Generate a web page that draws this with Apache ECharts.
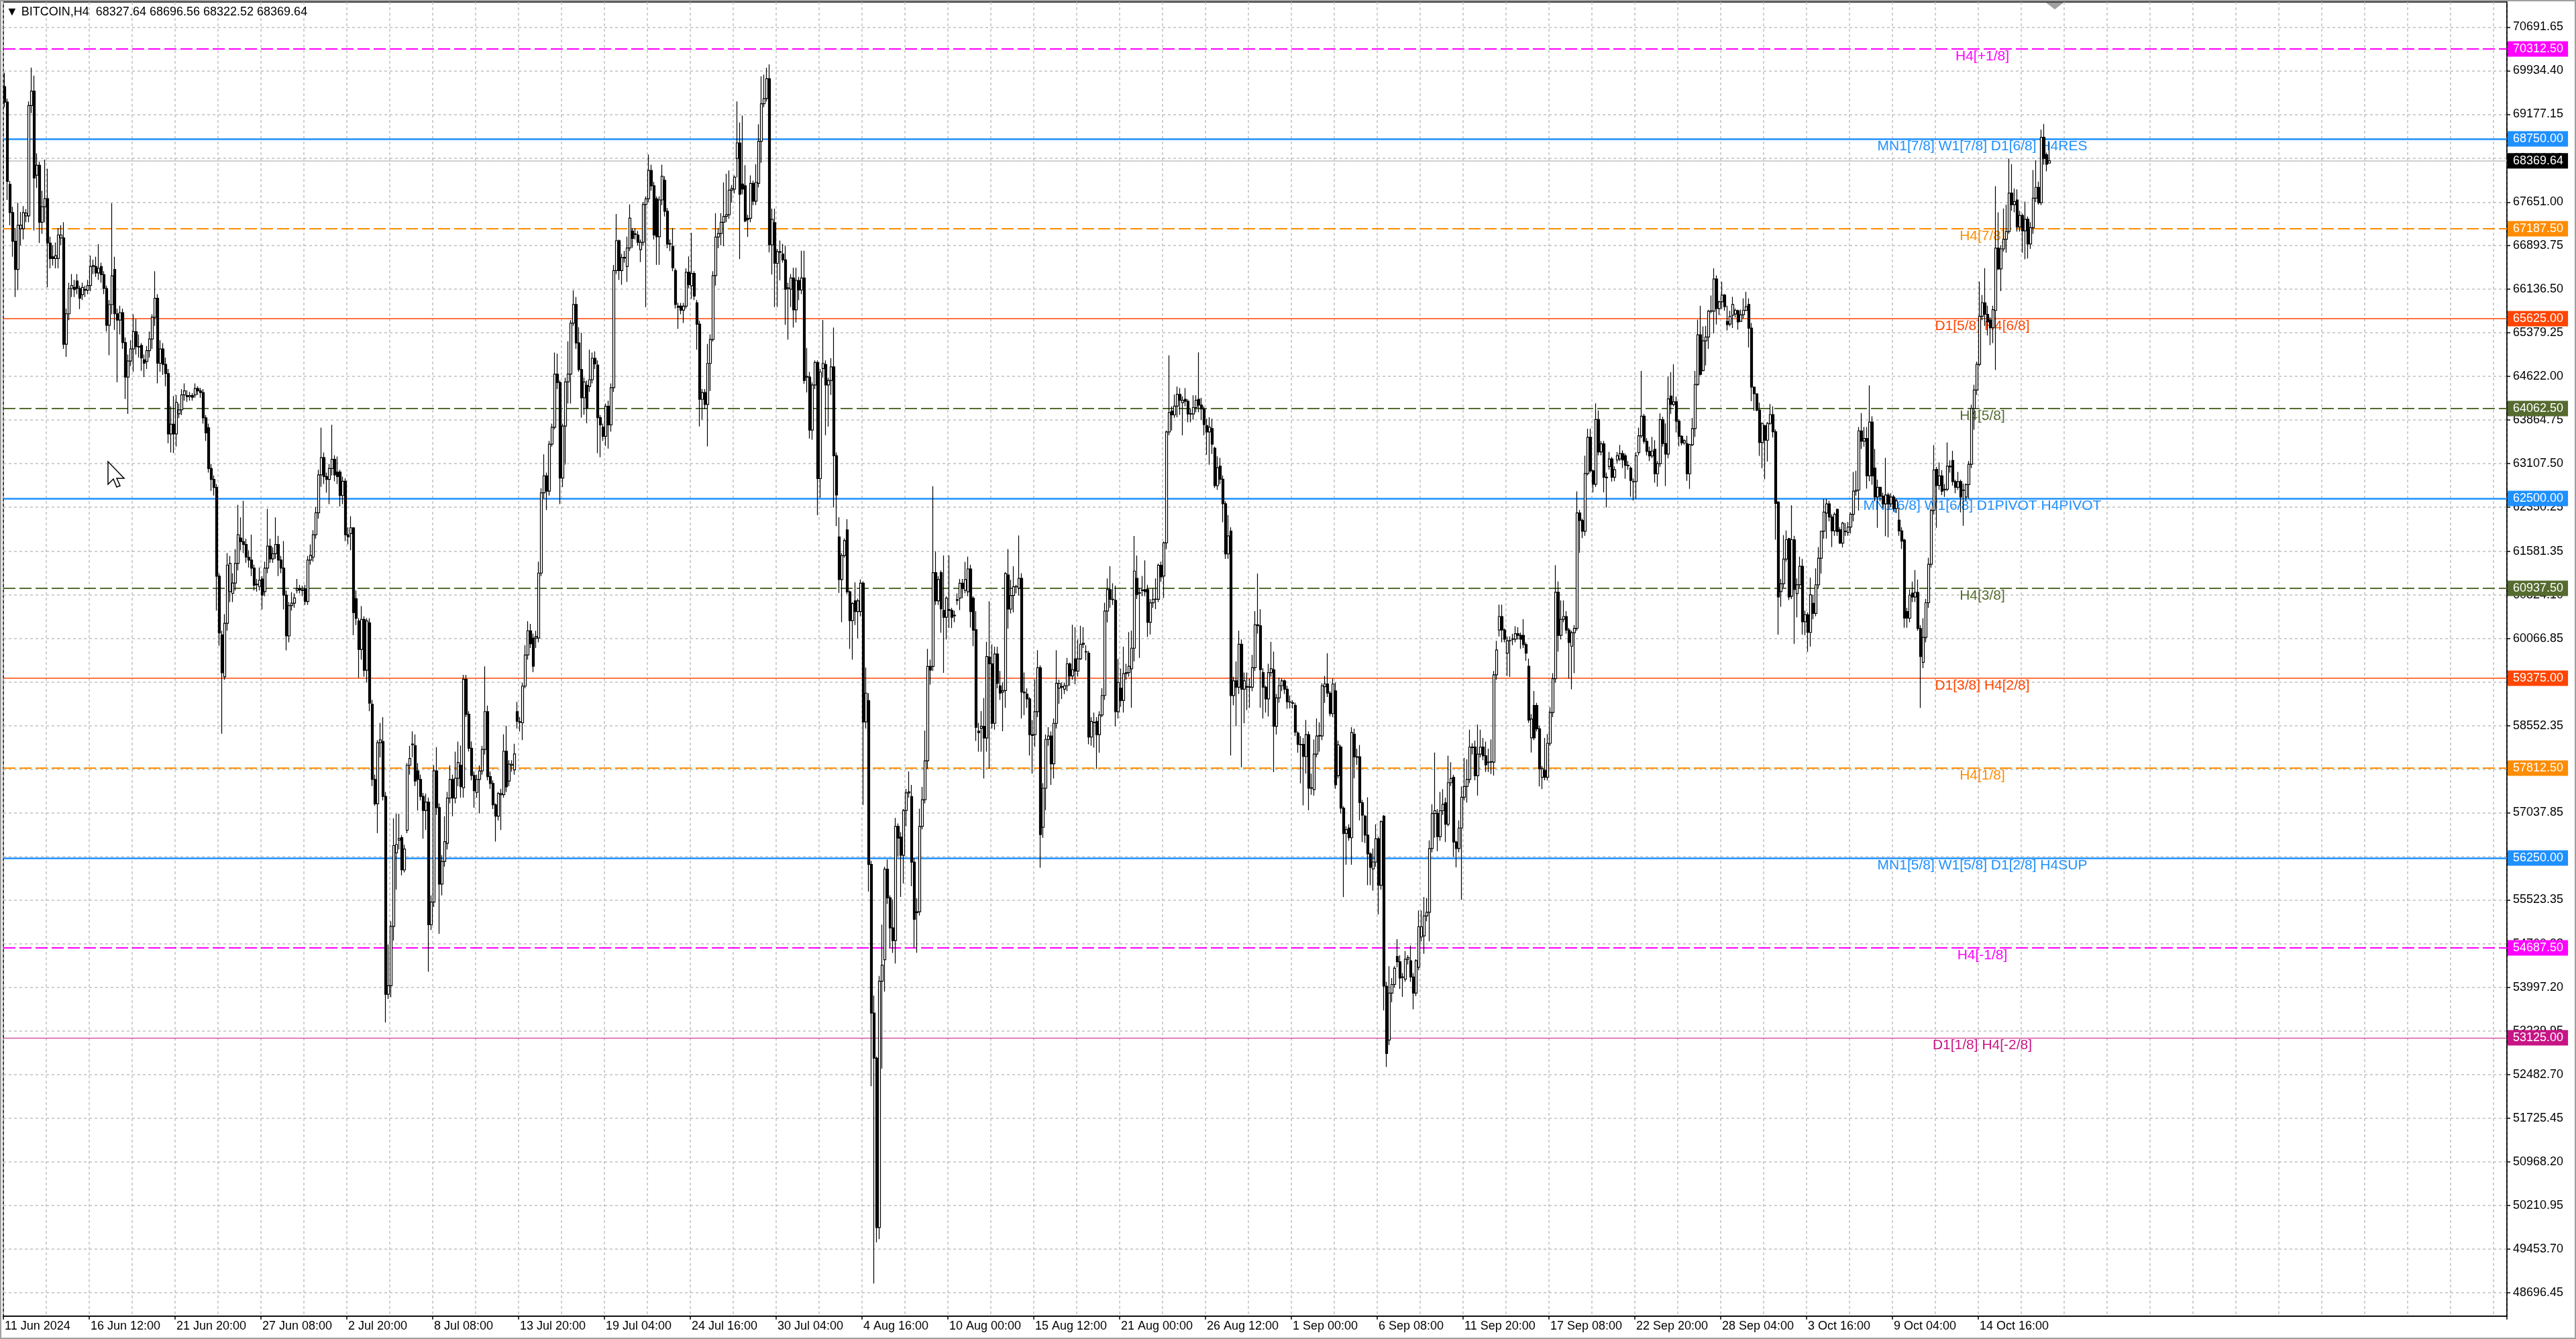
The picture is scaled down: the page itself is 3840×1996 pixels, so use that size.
<!DOCTYPE html>
<html>
<head>
<meta charset="utf-8">
<title>BITCOIN,H4</title>
<script src="https://cdn.jsdelivr.net/npm/echarts@6/dist/echarts.min.js"></script>
<style>
  html, body { margin: 0; padding: 0; background: #ffffff; }
  #main { width: 3840px; height: 1996px; }
</style>
</head>
<body>
<div id="main"></div>
<script>
// time scale labels, one every 32 H4 bars
const timeLabels = ['11 Jun 2024', '16 Jun 12:00', '21 Jun 20:00', '27 Jun 08:00', '2 Jul 20:00', '8 Jul 08:00',
  '13 Jul 20:00', '19 Jul 04:00', '24 Jul 16:00', '30 Jul 04:00', '4 Aug 16:00', '10 Aug 00:00',
  '15 Aug 12:00', '21 Aug 00:00', '26 Aug 12:00', '1 Sep 00:00', '6 Sep 08:00', '11 Sep 20:00',
  '17 Sep 08:00', '22 Sep 20:00', '28 Sep 04:00', '3 Oct 16:00', '9 Oct 04:00', '14 Oct 16:00'];

// price scale labels
const priceTicks = [70691.65, 69934.40, 69177.15, 68414.08, 67651.00, 66893.75, 66136.50, 65379.25, 64622.00,
  63864.75, 63107.50, 62350.25, 61581.35, 60824.10, 60066.85, 59309.60, 58552.35, 57795.10, 57037.85,
  56280.60, 55523.35, 54760.28, 53997.20, 53239.95, 52482.70, 51725.45, 50968.20, 50210.95, 49453.70, 48696.45];

// Murrey levels
const levelPrices = [70312.50, 68750.00, 67187.50, 65625.00, 64062.50, 62500.00, 60937.50, 59375.00,
  57812.50, 56250.00, 54687.50, 53125.00];
const levelNames = ['H4[+1/8]', 'MN1[7/8] W1[7/8] D1[6/8] H4RES', 'H4[7/8]', 'D1[5/8] H4[6/8]', 'H4[5/8]',
  'MN1[6/8] W1[6/8] D1PIVOT H4PIVOT', 'H4[3/8]', 'D1[3/8] H4[2/8]', 'H4[1/8]',
  'MN1[5/8] W1[5/8] D1[2/8] H4SUP', 'H4[-1/8]', 'D1[1/8] H4[-2/8]'];

const lastPrice = 68369.64;
const headerText = '\u25BC BITCOIN,H4  68327.64 68696.56 68322.52 68369.64';

// H4 bars: [open, close, low, high]
const candles = [
[69660,69390,69300,69900],[69390,68010,67690,69450],[67960,67470,67250,68020],[67470,66970,66700,67570],
[66970,66480,66000,67200],[66480,67250,66120,67640],[67190,67250,66900,67480],[67190,67470,67000,67580],
[67410,67460,67300,67530],[67410,69330,67300,69400],[69330,69580,69200,69990],[69580,68070,67160,69850],
[68120,68290,67900,68500],[68290,67300,66940,68350],[67300,67570,67100,67850],[67570,67710,67300,68390],
[67710,66940,66170,68230],[66940,66670,66500,67050],[66700,66670,66550,66900],[66670,66720,66500,66950],
[66670,67080,66500,67200],[67030,67080,66900,67250],[67030,65180,65100,67300],[65180,65710,64960,65800],
[65710,66150,65600,66250],[66150,66200,66000,66400],[66170,66130,66000,66300],[66280,66150,66050,66400],
[66150,65980,65790,66200],[66040,66170,65950,66250],[66130,66120,66000,66200],[66120,66200,66050,66300],
[66200,66530,66100,66720],[66530,66550,66400,66650],[66530,66420,66350,66700],[66420,66500,66300,66920],
[66530,66390,66250,66600],[66390,66150,66050,66450],[66150,65510,65400,66200],[65510,65870,64990,65950],
[65870,66370,65700,67630],[66480,65710,65430,66700],[65710,65600,64520,65800],[65600,65730,65350,65850],
[65730,65210,65100,65800],[65210,64610,64230,65300],[64610,64890,63970,65000],[64890,65100,64800,65250],
[65100,65400,64700,65700],[65400,65140,65000,65620],[65140,65130,64950,65350],[65160,64940,64720,65200],
[64910,64850,64610,65000],[64880,65070,64750,65150],[65070,65270,64950,65400],[65270,65650,65100,65700],
[65650,65980,65500,66450],[65980,64850,64500,66050],[64850,65100,64700,65250],[65100,64830,64650,65200],
[64830,64670,64450,64950],[64670,63620,63460,64750],[63620,63790,63300,64100],[63790,63620,63290,64280],
[63620,64170,63400,64300],[63970,64040,63900,64150],[64040,64300,63950,64400],[64300,64370,64200,64500],
[64290,64270,64180,64380],[64270,64290,64200,64350],[64290,64260,64200,64330],[64300,64410,64250,64500],
[64410,64370,64300,64450],[64370,64340,64250,64420],[64340,63900,63800,64400],[63900,63640,63500,63950],
[63730,63020,62950,63800],[63020,62830,62630,63100],[62830,62690,62550,62900],[62690,61150,60550,62750],
[61150,60160,59940,61200],[60130,59470,58410,60200],[59400,60330,59350,60490],[60330,61340,60200,61550],
[60880,61370,60700,61500],[60850,61030,60700,61200],[61030,61370,60900,61620],[61370,61870,61250,62390],
[61810,61750,61600,62170],[61750,61700,61550,62460],[61700,61480,61380,61800],[61480,61430,61300,61600],
[61430,61290,61150,61870],[61290,60990,60900,61350],[61000,61010,60880,61100],[60970,61080,60900,61300],
[61100,60820,60570,61150],[60880,61290,60800,61400],[61290,61670,61200,62320],[61670,61450,61380,61800],
[61450,61540,61380,61650],[61540,61700,61450,62170],[61700,61430,61150,61850],[61430,61290,61200,61500],
[61290,60820,60570,61760],[60820,60110,59860,60900],[60110,60640,60000,60700],[60640,60680,60550,60870],
[60680,60770,60600,60850],[60900,60930,60850,61100],[60930,60910,60850,61000],[60910,60900,60800,60980],
[60930,60710,60650,61000],[60710,61430,60650,61500],[61430,61510,61350,61700],[61480,61870,61400,61950],
[61870,62250,61800,62350],[62250,62910,62150,63000],[62910,63210,62700,63730],[63210,62880,62750,63300],
[62880,62830,62600,62950],[62830,63020,62400,63100],[63020,63180,62900,63780],[63180,62910,62800,63250],
[62960,62880,62750,63230],[62960,62550,62360,63000],[62550,62800,62400,62880],[62800,61870,61760,62850],
[61870,61830,61700,62000],
[61890,61990,61600,62190],[61990,60515,60120,62000],[60760,60417,60300,60900],[60370,59876,59385,60420],
[59876,60397,59700,60630],[60397,59513,59400,60450],[59513,60370,59300,60420],[60340,58943,58800,60420],
[58923,57616,57500,59000],[57616,57193,57160,57700],[57193,58255,56683,58300],[58255,58304,58000,58600],
[58275,57321,57250,58700],[57321,53881,53390,57400],[53881,54030,53800,54750],[54030,55062,53830,55150],
[55062,56466,54815,56940],[56340,56486,55700,57020],[56560,56590,56400,57020],[56604,56043,55950,56650],
[56043,56407,56000,56480],[56732,57862,56683,57900],[57862,57980,57700,58200],[58220,58230,58000,58450],
[58206,57587,57500,58400],[57764,57616,57076,57900],[57616,57321,57250,57700],[57321,57076,56584,57380],
[57076,57223,56740,57370],[57223,55090,54275,57300],[55090,55484,55000,55600],[55484,57764,55400,57862],
[57764,57125,57000,58176],[57125,55798,54933,57200],[55798,56191,55600,56300],[56191,56535,56100,56977],
[56505,57292,56400,57400],[57292,57616,57200,57862],[57616,57292,56977,57700],[57292,57636,57200,58097],
[57636,57911,57500,58274],[57862,57489,57300,58206],[57469,59356,57300,59434],[59356,58746,58700,59434],
[58746,58157,58100,58800],[58157,57685,57600,58275],[57685,57420,57125,57750],[57390,57616,57300,57700],
[57616,57764,57027,57862],[57764,58137,57700,58200],[58137,58795,58050,59582],[58795,57665,57600,58900],
[57665,57547,57450,57750],[57547,57174,57100,57600],[57174,56977,56535,57200],[56977,57370,56900,57400],
[57350,57370,56738,57450],[57350,58107,57300,58402],[58107,57488,57400,58550],[57587,57882,57500,57950],
[57862,57880,57750,57950],[57783,58058,57700,58235],[58795,58628,58500,58963],[58620,58610,58450,58700],
[58600,59238,58300,59300],[59238,59778,59200,59950],[59778,60200,59700,60365],[60200,59975,59900,60320],
[60073,59582,59480,60150],[60073,60103,59900,60200],[60073,61203,60000,61400],[61203,62598,61150,62677],
[62598,62893,62500,63267],[62893,62628,62300,62950],[62628,63443,62550,63500],[63443,63738,63400,63800],
[63738,64662,63700,65036],[64662,64515,64400,65016],[64515,62854,62402,64550],[62854,63758,62697,63800],
[63758,64525,63090,64600],[64525,64662,64151,65232],[64662,65547,64151,65600],[65547,65871,65500,66117],
[65871,65203,65100,66000],[65203,64741,64700,65478],[64741,64249,63905,65380],[64249,64525,63955,64600],
[64466,64073,63807,64550],[64446,64564,64350,65085],[64564,64937,64500,65036],[64937,64839,64750,65056],
[64819,63905,63286,64900],[63905,63778,63218,63950],[63738,63581,63500,63800],[63581,64102,63414,64150],
[64102,63778,63365,64200],[63778,64426,63660,64500],[64426,66461,64350,66559],[66461,66981,66400,67443],
[66981,66461,66300,67001],[66461,66687,66215,66750],[66680,66690,66600,66800],[66530,66854,66264,67050],
[66854,67374,66800,67610],[67148,67021,66854,67200],[67100,67090,67000,67200],[67080,66952,66900,67150],
[66824,66952,66608,67000],[66952,67610,66900,67650],[67610,67708,65822,67750],[67708,68200,67650,68475],
[68200,67935,67850,68300],[67935,67080,67000,68000],[67708,67050,66560,67750],[67050,67689,66560,67750],
[67689,68102,67600,68300],[68033,67492,67400,68100],[67492,66922,66850,67550],[66922,66930,66800,67001],
[66883,66510,66450,67198],[66461,65871,65800,66500],[65842,65822,65448,65900],[65842,65773,65700,65900],
[65773,65842,65550,65900],[65842,66431,65800,66500],[66431,66215,66150,66706],[66195,66411,65969,67119],
[66411,66018,65950,66450],[65900,65527,65085,65950],
[65530,64223,63750,65590],[64223,64342,63870,64400],[64342,64134,64050,64400],[64134,64847,63403,65185],
[64847,65263,64370,65350],[65263,66373,65230,66450],[66373,67044,66200,67460],[67044,67104,66850,67200],
[67104,67300,66900,67460],[67300,67401,66884,67995],[67401,67431,67300,68144],[67431,67859,67360,68203],
[67859,67889,67639,67950],[67876,68084,67800,68114],[68410,68680,68080,69400],[68678,67787,66659,69035],
[67965,67876,67787,69154],[67935,67324,67300,68292],[67371,67350,67044,67431],[67371,67977,67300,68114],
[67977,67668,67600,68025],[67668,67995,67600,68310],[67977,68708,67906,69005],[68708,69362,68334,69837],
[69362,69451,69300,69867],[69451,69795,69400,69985],[69795,66908,66777,70045],[66908,67353,66391,67537],
[67294,66587,65827,67537],[66587,66789,65827,66837],[66777,66790,66290,66985],[66748,66647,66600,66926],
[66647,66136,65518,66896],[66150,66160,65262,66250],[66136,66332,65827,66400],[66332,65779,65470,66510],
[65779,66290,65559,66510],[66290,66124,65946,66350],[66124,66332,66050,66807],[66332,64550,64490,66807],
[64610,64620,64342,65114],[64610,63688,63540,64700],[63688,64473,63520,64520],[64473,64864,64400,64900],
[64864,62844,62210,64900],[62844,64698,62512,64750],[64758,64847,64600,65601],[64829,64473,63599,64900],
[64473,64550,63748,64600],[64550,64787,64300,64936],[64787,63242,62342,65470],[63242,62560,62020,63300],
[61832,61091,60859,62173],[61091,61508,60349,61550],[61508,61767,61470,61805],[61953,60877,60840,62138],
[60877,60377,59886,60900],[60377,60674,59700,60700],[60720,60534,60300,61044],[60534,60720,60071,60760],
[60534,61026,60450,61091],[61026,58616,57170,61060],[58616,59116,58500,59561],[58986,56137,55668,59116],
[56137,53555,52284,56200],[53555,52770,48854,53860],[52770,49827,49568,52800],[49827,54110,49623,54200],
[54110,54389,52590,55093],[54481,56057,53926,56100],[56057,55557,55450,56224],[55557,55037,54694,55600],
[55037,54815,54600,55530],[54815,56799,54416,56947],[56799,56595,56270,56850],[56613,56298,55575,56700],
[56298,57077,55807,57100],[57077,57383,56800,57450],[57383,57400,57300,57753],[57318,56178,55760,57522],
[56178,55183,54694,56250],[55316,55300,54602,55550],[55316,56799,55250,57107],[56799,57262,56750,57485],
[57262,57939,57200,58467],[57939,59580,57800,59886],[59580,59515,59265,59700],[59580,61211,59500,62713],
[61211,60720,60650,61582],[60720,61091,60650,61150],[61211,60581,60164,61250],[60554,60434,59468,61508],
[60434,60766,60050,60800],[60554,60570,60248,61508],[60554,60434,60248,60600],[60470,60460,60350,60550],
[60730,60740,60650,60850],[60766,61026,60560,61100],[61026,60933,60766,61100],[60905,61091,60850,61397],
[60877,61276,60800,61490],[61276,60534,60257,61350],[60766,60210,59932,60800],
[60220,58523,58286,60542],[58455,58430,58099,58600],[58506,58540,58099,58803],[58540,58337,57632,59032],
[58337,59753,58099,60008],[59745,59626,57802,60712],[59626,58591,58500,59965],[58591,59796,58480,59923],
[59796,59287,59200,59923],[59244,59117,59000,59500],[59134,59160,58455,59300],[59160,61195,58862,61220],
[61170,60576,60237,61620],[60576,60813,60500,61085],[60813,60966,60517,61322],[60966,60970,60850,61000],
[60941,61111,60813,61857],[61111,59134,58676,61200],[59134,59120,58735,59473],[59100,59015,58862,59200],
[59015,58395,58031,59050],[58395,58380,57717,58650],[58395,58794,58184,59354],[58794,59558,58700,59863],
[59558,56657,56080,59600],[56784,57463,56600,57550],[57463,58311,57081,58400],[58311,58370,58200,58523],
[58370,57886,57522,58450],[57886,58591,57632,58676],[58591,59287,58500,59863],[59202,59287,58930,59350],
[59219,59230,59015,59300],[59185,59244,59100,59300],[59244,59626,59150,59728],[59626,59414,59244,59650],
[59414,59524,59350,60304],[59711,59499,59270,60262],[59499,59711,59400,60050],[59711,59965,59694,60287],
[59965,59982,59900,60262],[59838,59830,59685,59950],[59812,58353,58226,59850],[58353,58625,58201,58700],
[58608,58600,58167,58778],[58625,58395,57802,58700],[58395,58735,58082,58800],[58735,59075,58700,59202],
[59075,60542,59000,60686],[60542,60915,60347,61111],[60915,60746,60600,61322],[60746,60740,60650,61025],
[60729,58794,58540,60983],[58794,59303,58676,59711],[59202,58990,58879,59541],[58990,59456,58778,59923],
[59456,59473,59350,59626],[59473,59583,59400,60177],[59541,59897,58862,60203],[59897,61238,59668,61848],
[61111,60830,60750,61509],[60855,60860,59728,60950],[60898,60910,60800,61153],[60915,60880,60800,61424],
[60915,60347,60092,61000],[60347,60686,60135,60750],[60686,60746,60600,60941],[60746,60750,60576,61111],
[60746,61339,60700,61365],[61339,61136,61050,61400],[61153,61730,60771,61750],[61730,63656,61620,63680],
[63656,63995,63600,64987],[64020,63952,63681,64100],[63952,64105,63900,64309],[64105,64309,63910,64444],
[64309,64207,63952,64419],[64164,64207,63596,64275],[64224,64190,64100,64419],[64190,63969,63825,64224],
[63969,63975,63825,64050],[63969,64080,63867,64292],[64080,64207,64000,64292],[64224,64122,64000,65038],
[64122,64054,63867,64249],[64054,63783,63596,64100],[63766,63656,63257,63885],[63656,63740,63087,63910],
[63715,63443,63274,63885],[63375,62722,62680,63400],[62722,63036,62650,63231],[63062,62833,62750,63206],
[62833,62408,62086,62900],[62408,61535,61450,62450],[61535,61848,61450,62213],[61933,59074,58031,62000],
[59074,59329,58905,59400],[59329,59219,58540,59668],[59219,59965,59100,60203],[59965,59185,57828,60050],
[59185,59329,58591,59473],[59219,59230,58820,59473],[59225,59215,58862,59371],[59219,59558,59150,59779],
[59558,60304,59500,60542],[60304,60290,60150,61195],[60287,59524,58862,60576],[59473,59219,58676,59550],
[59219,59015,58778,59250],[59015,59473,58710,59626],[59473,59541,59400,60008],[59524,58540,57743,59838],
[58540,59032,58396,59100],[59032,59244,58950,59388],[59244,59329,59150,59371],[59329,59185,59100,59354],
[59185,58964,58846,59244],[58964,58960,58850,59075],[58947,58940,58850,58990],[58905,58438,58370,58950],
[58421,58226,58082,58450],[58226,58220,57547,58370],[58226,58014,57166,58336],[58014,58395,57717,58650],
[58395,57463,57081,58450],[57463,57470,57350,57717],[57437,58057,57336,58311],[58057,58370,58000,58676],
[58370,58380,58099,58608],[58370,59244,58300,59287],
[59229,59276,58947,59416],[59276,59116,59050,59810],[59116,58760,58713,59150],[58760,59276,58700,59369],
[59154,57522,57450,59300],[57681,58216,57634,58291],[58178,57118,57025,58216],[57118,56678,55571,57150],
[56678,56744,56134,56800],[56772,56603,56550,56837],[56603,58432,56134,58525],[58404,58009,57634,58497],
[58009,58000,57869,58150],[58009,57212,56903,58216],[57212,56996,56528,57259],[56978,56649,56509,57000],
[56649,56321,55777,57306],[56321,56087,55777,56350],[56059,56180,55684,56416],[56180,56584,56100,56837],
[56584,55777,55271,56620],[55777,56884,55700,56903],[56978,54023,53601,56996],[54023,52851,52617,54100],
[53086,53902,53000,54371],[53902,54052,53742,54164],[54052,54333,54000,54371],[54539,54446,54350,54839],
[54446,54164,53977,54558],[54183,54175,53836,54250],[54145,54492,54100,54633],[54492,54520,54400,54558],
[54464,54183,54100,54727],[54183,53902,53620,54250],[53902,54464,53850,54492],[54352,55055,54300,55337],
[54877,55055,54800,55337],[54896,55243,54586,55571],[55243,55308,55150,55553],[55308,56416,54802,56556],
[56416,57025,56350,57184],[57025,57072,56603,58085],[57025,56621,56368,57100],[56621,57072,56550,57400],
[57072,57184,57000,57447],[57212,56837,56528,57300],[56837,57559,56800,58028],[57559,57634,57500,57916],
[57653,56528,56274,57700],[56528,56416,56087,56550],[56416,56772,56350,56903],[56772,57306,55524,57494],
[57306,57494,57250,57990],[57494,57615,57212,57963],[57615,58178,57550,58479],[58178,58170,58050,58244],
[58178,57681,57600,58291],[57681,58056,57334,58572],[58056,58178,58000,58479],[58178,58028,57950,58338],
[58028,57869,57747,58272],[57916,57910,57747,58150],[57916,57925,57710,58310],[57916,59435,57681,59500],
[59435,59867,59350,60026],[60214,60448,60100,60654],[60448,60214,59998,60654],[60214,60054,60000,60242],
[59810,60026,59416,60100],[60026,60030,59398,60100],[60054,60060,59950,60148],[60054,60148,60000,60279],
[60148,60120,60050,60261],[60120,60054,59886,60167],[60120,59960,59900,60401],[59960,59810,59679,60000],
[59585,58647,58600,59717],[58338,58666,58085,58750],[58901,58338,58300,59154],[58901,58497,58450,58947],
[58497,57803,57494,58550],[57653,57803,57447,57850],[57775,57653,57600,58338],[57653,58244,57600,58404],
[58244,58779,58200,58872],[58779,59369,58700,59463],[59369,60870,59300,61339],[60870,60120,59839,61058],
[60120,60401,60050,60729],[60401,60448,60350,60729],[60448,60214,60150,60542],[60214,59998,59369,60250],
[59932,60167,59182,60200],[60167,60242,59463,60300],[60242,62249,60200,62624],[62249,62118,61555,62300],
[62118,61930,61808,62150],[61930,62934,61850,63243],[62934,63562,62900,63712],[63562,62980,62950,63712],
[62980,62746,62605,63000],[62746,63871,62700,64153],[63871,63309,63250,64031],[63309,63449,63250,63496],
[63449,62868,62605,63500],[62868,62860,62343,62950],[63056,63187,63000,63309],[63187,62868,62793,63220],
[62868,62999,62800,63056],[63168,63243,63100,63309],[63187,63281,63150,63431],[63281,63168,63027,63337],
[63243,63075,62840,63281],[63075,63070,63000,63150],[63027,62812,62530,63056],[62793,62790,62465,62850],
[62793,63243,62493,63309],
[63298,63589,63250,63731],[63589,63931,63550,64716],[63931,63492,63450,63970],[63492,63318,63250,63550],
[63318,63240,63150,63400],[63240,63325,63200,63570],[63356,62929,62774,63512],[62929,63104,62705,63150],
[63104,63869,63050,63977],[63869,63454,63400,63919],[63454,63271,62716,63803],[63271,64230,63200,64618],
[64280,64133,63970,64696],[64133,64180,64100,64832],[64180,63842,63648,64270],[63842,63581,63403,63880],
[63581,63465,63420,63600],[63465,63504,63430,63530],[63453,62929,62805,63590],[62929,63434,62665,63450],
[63434,63714,63410,63900],[63714,64482,63570,64715],[64482,65344,64460,65608],[65344,64657,64640,65849],
[64723,65239,64710,65491],[65239,65305,64812,65500],[65305,65755,65100,65780],[65755,65762,65720,66027],
[65755,66314,65370,66501],[66314,65802,65523,66377],[65802,65918,65686,65938],[65918,66035,65794,66268],
[66035,65833,65763,66054],[65577,65522,65422,65849],[65530,65666,65492,65763],[65686,65872,65461,66004],
[65705,65771,65647,65802],[65763,65569,65433,65783],[65577,65694,65570,65783],[65694,65771,65627,65977],
[65771,65833,65755,66093],[65872,65460,65123,65977],[65460,64436,64191,65550],[64436,64319,64024,64444],
[64319,64036,64016,64327],[64036,63473,63240,64164],[63473,63803,63026,63822],[63764,63512,62832,63783],
[63512,63803,63142,63830],[63803,63958,63783,64141],[63958,63659,63558,64102],[63659,62414,61783,63700],
[62437,60788,60134,62450],[60880,61018,60618,61100],[61018,61447,60950,61861],[61447,61783,61400,61944],
[61801,60788,60733,61815],[60802,61783,60750,62381],[61783,60917,59973,61850],[60848,61000,60434,61111],
[61000,61322,60950,61490],[61322,60355,60134,61447],[60355,60480,60125,60550],[60480,60171,59835,60520],
[60171,60825,59927,61124],[60677,60503,60400,60825],[60503,60999,60450,61285],[60999,61460,60950,61654],
[61460,61930,61193,61939],[61930,62262,61800,62490],
[62245,62405,61800,62492],[62405,62178,62100,62459],[62178,61937,61656,62225],[61937,62225,61850,62258],
[62311,61924,61850,62325],[61957,61723,61710,62000],[61723,62071,61650,62091],[61924,61930,61850,62071],
[61910,62004,61850,62091],[62004,62225,61890,62258],[62225,62626,62100,62960],[62626,62646,62550,62980],
[62646,63675,62291,63742],[63675,63495,63361,63983],[63495,63542,63400,63742],[63542,62893,62672,63742],
[62893,63829,62800,64464],[63829,62893,62740,63930],[63027,62526,62450,63361],[62526,62693,61991,62826],
[62693,62539,62450,62700],[62539,62405,62338,62600],[62405,62559,61844,63207],[62559,62405,61824,62600],
[62405,62526,62350,62592],[62526,62325,62271,62560],[62325,62459,62250,62500],[62124,61937,61850,62338],
[61937,61757,61623,62000],[61776,60419,60252,61800],[60533,60419,60252,60600],[60419,60820,60350,60921],
[60854,60787,60700,61055],[60787,60868,60700,61255],[60868,60239,60199,61088],[60239,59751,58860,60300],
[59651,60085,59550,60419],[60085,60687,60000,60754],[60687,61356,60600,61469],[61356,62291,61300,62325],
[62291,62994,62220,63428],[63007,62726,61991,63047],[62726,62893,62650,63127],[62893,62626,62559,62994],
[62660,62650,62526,62750],[62660,63061,62626,63475],[63061,63050,62950,63161],[63161,62793,62726,63328],
[62793,62693,62592,62826],[62693,62793,62650,62960],[62793,62526,62258,62826],[62646,62640,62026,62759],
[62526,62740,62459,62759],[62740,63094,62500,63150],[63094,64063,63027,64130],[64063,64384,63696,64478],
[64384,64832,64300,64879],[64832,65668,64800,66270],[65668,65902,65600,66036],[65902,65701,65500,66504],
[65701,65568,65333,65850],[65601,65467,65166,65650],[65467,65782,65200,65850],[65768,66852,64732,67928],
[66852,66490,66470,67473],[66490,66838,66102,66900],[66838,67005,66791,67540],[67005,67139,66771,67607],
[67139,67808,67100,68409],[67808,67607,67500,68309],[67607,67660,67473,67888],[67687,67219,67139,67874],
[67219,67420,67139,67500],[67420,67152,66771,67450],[67152,67353,66657,67660],[67353,66925,66671,67400],
[66925,67206,66838,67300],[67206,67720,67100,68209],[67720,67908,67650,68376],[67908,67640,67607,68008],
[67640,68777,67600,68911],[68777,68409,68300,69011],[68476,68309,68189,68510],
[68327.64,68369.64,68322.52,68696.56]
];

// ---- styling ----
const FONT = 'Liberation Sans, Arial, sans-serif';
const levelStyles = [
  { color: '#FF00FF', type: [18, 6], width: 2 },
  { color: '#1E90FF', type: 'solid', width: 2.5 },
  { color: '#FF8C00', type: [18, 6], width: 2 },
  { color: '#FF4500', type: 'solid', width: 1.5 },
  { color: '#556B2F', type: [18, 6], width: 2 },
  { color: '#1E90FF', type: 'solid', width: 2.5 },
  { color: '#556B2F', type: [18, 6], width: 2 },
  { color: '#FF4500', type: 'solid', width: 1.5 },
  { color: '#FF8C00', type: [18, 6], width: 2 },
  { color: '#1E90FF', type: 'solid', width: 2.5 },
  { color: '#FF00FF', type: [18, 6], width: 2 },
  { color: '#C71585', type: 'solid', width: 1.2 }
];
const slotCount = 933;      // bar slots across the chart window (4px each)
const labelEvery = 32;      // bars between time labels
const gridEvery = 16;       // bars between vertical grid lines
const levelTextBar = 737;   // bar over which the level names are centred

const categories = [];
for (let i = 0; i < slotCount; i++) categories.push(String(i));

const boxLabel = (text, bg) => ({
  show: true,
  position: 'end',
  distance: 1,
  formatter: text,
  color: '#ffffff',
  backgroundColor: bg,
  padding: [2, 7, 2, 8],
  fontSize: 18,
  lineHeight: 19,
  fontFamily: FONT
});

const markLineData = levelPrices.map((p, k) => ({
  yAxis: p,
  lineStyle: { color: levelStyles[k].color, type: levelStyles[k].type, width: levelStyles[k].width },
  label: boxLabel(p.toFixed(2), levelStyles[k].color)
}));
markLineData.push({
  yAxis: lastPrice,
  lineStyle: { color: '#C0C0C0', type: 'solid', width: 1.5 },
  label: boxLabel(lastPrice.toFixed(2), '#000000')
});

const markPointData = levelPrices.map((p, k) => ({
  coord: [levelTextBar, p],
  symbol: 'rect',
  symbolSize: [1, 1],
  itemStyle: { color: 'rgba(0,0,0,0)' },
  label: {
    show: true,
    position: 'bottom',
    distance: 0,
    formatter: levelNames[k],
    color: levelStyles[k].color,
    fontSize: 21,
    fontFamily: FONT
  }
}));

const chart = echarts.init(document.getElementById('main'), null, { renderer: 'canvas' });

chart.setOption({
  animation: false,
  backgroundColor: '#ffffff',
  title: {
    text: headerText,
    left: 9,
    top: 9,
    padding: 0,
    textStyle: { fontSize: 18, fontWeight: 'normal', color: '#000000', fontFamily: FONT }
  },
  grid: {
    left: 5, right: 103, top: 3, bottom: 34,
    show: true, borderColor: '#000000', borderWidth: 1.5, backgroundColor: '#ffffff'
  },
  xAxis: {
    type: 'category',
    data: categories,
    boundaryGap: true,
    axisLine: { show: true, lineStyle: { color: '#000000', width: 1.5 } },
    axisTick: {
      show: true, length: 5,
      interval: (i) => i % labelEvery === 0 && i / labelEvery < timeLabels.length,
      lineStyle: { color: '#000000', width: 1.5 }
    },
    axisLabel: {
      show: true,
      interval: (i) => i % labelEvery === 0 && i / labelEvery < timeLabels.length,
      formatter: (v) => timeLabels[Number(v) / labelEvery] || '',
      align: 'left',
      margin: 6,
      fontSize: 18,
      color: '#000000',
      fontFamily: FONT
    },
    splitLine: {
      show: true,
      interval: (i) => i % gridEvery === 0,
      lineStyle: { color: '#C0C0C0', type: [4, 4], width: 1.5 }
    }
  },
  yAxis: {
    type: 'value',
    position: 'right',
    min: 48286,
    max: 71129,
    axisLine: { show: true, lineStyle: { color: '#000000', width: 1.5 } },
    axisTick: { show: true, length: 5, customValues: priceTicks, lineStyle: { color: '#000000', width: 1.5 } },
    axisLabel: {
      show: true,
      customValues: priceTicks,
      formatter: (v) => Number(v).toFixed(2),
      margin: 9,
      fontSize: 18,
      color: '#000000',
      fontFamily: FONT
    },
    splitLine: { show: true, lineStyle: { color: '#C0C0C0', type: [4, 4], width: 1.5 } }
  },
  series: [{
    type: 'candlestick',
    z: 3,
    data: candles,
    barWidth: 2.6,
    large: false,
    progressive: 0,
    itemStyle: {
      color: '#ffffff',
      color0: '#000000',
      borderColor: '#000000',
      borderColor0: '#000000',
      borderColorDoji: '#000000',
      borderWidth: 1.2
    },
    markLine: { z: 1, silent: true, symbol: ['none', 'none'], animation: false, data: markLineData },
    markPoint: { z: 1, silent: true, animation: false, data: markPointData }
  }],
  graphic: [
    { type: 'rect', silent: true, shape: { x: 1, y: 1, width: 3838, height: 1994 },
      style: { fill: 'none', stroke: '#A0A0A0', lineWidth: 2 } },
    { type: 'polygon', silent: true, shape: { points: [[3050, 4], [3076, 4], [3063, 14]] },
      style: { fill: '#A0A0A0' } },
    { type: 'polygon', silent: true, z: 100,
      shape: { points: [[161, 688], [161, 722], [169, 714], [174, 726], [179, 724], [174, 713], [185, 713]] },
      style: { fill: '#ffffff', stroke: '#000000', lineWidth: 1.5 } }
  ]
});
</script>
</body>
</html>
